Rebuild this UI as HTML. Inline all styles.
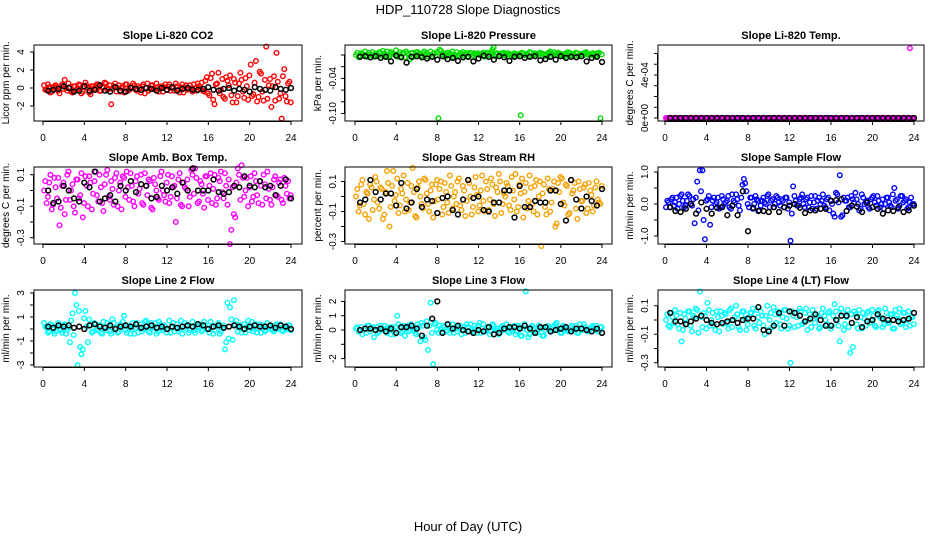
<!DOCTYPE html>
<html><head><meta charset="utf-8"><style>
body{margin:0;background:#fff;}
svg{display:block;font-family:"Liberation Sans",sans-serif;}
</style></head><body>
<svg id="chart" width="936" height="540" viewBox="0 0 936 540">
<rect width="936" height="540" fill="#fff"/>
<text x="468" y="14" text-anchor="middle" font-size="13">HDP_110728  Slope Diagnostics</text>
<text x="468" y="531" text-anchor="middle" font-size="13">Hour of Day (UTC)</text>
</svg>
<script>
const hoursColored=[0.1,0.35,0.6,0.85,1.1,1.35,1.6,1.85,2.1,2.35,2.6,2.85,3.1,3.35,3.6,3.85,4.1,4.35,4.6,4.85,5.1,5.35,5.6,5.85,6.1,6.35,6.6,6.85,7.1,7.35,7.6,7.85,8.1,8.35,8.6,8.85,9.1,9.35,9.6,9.85,10.1,10.35,10.6,10.85,11.1,11.35,11.6,11.85,12.1,12.35,12.6,12.85,13.1,13.35,13.6,13.85,14.1,14.35,14.6,14.85,15.1,15.35,15.6,15.85,16.1,16.35,16.6,16.85,17.1,17.35,17.6,17.85,18.1,18.35,18.6,18.85,19.1,19.35,19.6,19.85,20.1,20.35,20.6,20.85,21.1,21.35,21.6,21.85,22.1,22.35,22.6,22.85,23.1,23.35,23.6,23.85];
const hoursColored2=[0.22,0.47,0.72,0.97,1.22,1.47,1.72,1.97,2.22,2.47,2.72,2.97,3.22,3.47,3.72,3.97,4.22,4.47,4.72,4.97,5.22,5.47,5.72,5.97,6.22,6.47,6.72,6.97,7.22,7.47,7.72,7.97,8.22,8.47,8.72,8.97,9.22,9.47,9.72,9.97,10.22,10.47,10.72,10.97,11.22,11.47,11.72,11.97,12.22,12.47,12.72,12.97,13.22,13.47,13.72,13.97,14.22,14.47,14.72,14.97,15.22,15.47,15.72,15.97,16.22,16.47,16.72,16.97,17.22,17.47,17.72,17.97,18.22,18.47,18.72,18.97,19.22,19.47,19.72,19.97,20.22,20.47,20.72,20.97,21.22,21.47,21.72,21.97,22.22,22.47,22.72,22.97,23.22,23.47,23.72,23.97];
const hoursBlack=[0.5,1,1.5,2,2.5,3,3.5,4,4.5,5,5.5,6,6.5,7,7.5,8,8.5,9,9.5,10,10.5,11,11.5,12,12.5,13,13.5,14,14.5,15,15.5,16,16.5,17,17.5,18,18.5,19,19.5,20,20.5,21,21.5,22,22.5,23,23.5,24];
const xTicks=[0,4,8,12,16,20,24];

const co2Colored=[0.3,-0.2,0.1,-0.4,0.2,0.0,-0.6,0.4,0.9,-0.3,0.1,-0.5,0.2,-0.1,0.3,-0.4,0.6,0.0,-0.7,0.2,-0.2,0.4,-0.3,0.1,0.5,-0.1,-1.8,0.2,-0.4,0.3,0.0,-0.5,0.4,-0.2,0.1,0.3,-0.3,0.0,0.2,-0.6,0.5,-0.1,0.3,-0.2,0.1,0.0,-0.4,0.4,0.2,-0.3,0.0,0.5,-0.2,0.1,-0.5,0.3,0.0,-0.1,0.4,-0.3,0.2,0.6,-0.4,1.2,-0.8,1.6,-1.8,0.5,-0.6,1.0,-1.2,0.8,1.4,-1.6,0.6,-0.9,1.7,-0.4,1.1,-1.3,2.6,-0.7,3.0,-1.0,1.6,-1.4,4.6,0.3,-2.1,1.3,3.9,-1.2,-3.4,2.1,-1.5,0.7];
const co2Colored2=[-0.2,0.4,-0.5,0.1,0.3,-0.3,0.2,-0.1,0.0,0.5,-0.4,0.2,-0.2,0.4,-0.6,0.1,0.3,-0.5,0.2,0.0,0.4,-0.3,0.1,0.6,-0.2,0.3,-0.1,0.5,0.0,-0.4,0.2,0.4,-0.3,0.1,0.5,-0.2,0.2,-0.5,0.4,0.0,-0.3,0.3,-0.1,0.5,-0.4,0.2,0.1,-0.2,0.4,0.0,-0.3,0.2,-0.5,0.4,0.1,-0.2,0.3,-0.4,0.0,0.5,-0.1,-0.3,0.8,-0.6,1.1,-1.3,0.4,1.7,-0.2,-1.0,1.2,0.3,-0.8,1.0,-1.6,0.5,0.9,-1.1,0.2,1.4,-0.9,0.6,-1.5,1.8,-0.4,0.9,-1.2,1.0,0.2,-1.4,0.7,-0.6,1.3,-0.9,0.5,-1.6];
const co2Black=[-0.3,-0.2,-0.1,0.2,0.0,-0.4,-0.3,0.2,-0.3,-0.2,0.3,-0.3,-0.4,0.1,-0.3,-0.4,0.0,-0.1,-0.2,0.0,-0.1,-0.3,0.0,-0.2,0.1,-0.3,-0.1,0.0,-0.2,-0.2,-0.1,0.1,-0.2,-0.3,-0.1,0.0,-0.3,-0.1,-0.2,-0.4,0.1,-0.1,-0.2,-0.3,0.1,-0.1,-0.2,0.0];
const pressColored=[0.0,-0.004,0.003,0.001,-0.002,0.004,0.0,-0.003,0.002,0.005,-0.001,0.003,0.006,-0.002,0.004,0.001,-0.003,0.005,0.002,-0.004,0.003,-0.007,0.004,0.0,0.005,-0.002,0.003,0.001,-0.003,0.006,0.002,-0.001,-0.108,0.007,0.003,-0.002,0.004,0.001,-0.003,0.005,0.0,0.002,-0.001,0.004,0.002,-0.004,0.003,0.001,0.0,0.002,-0.003,0.004,0.001,0.009,-0.002,0.003,0.0,0.002,-0.001,0.003,0.001,-0.002,0.002,0.0,-0.103,0.003,0.001,-0.002,0.004,0.0,0.002,-0.001,0.003,0.001,0.0,0.004,-0.002,0.005,0.002,0.0,0.001,-0.003,0.002,0.004,0.0,-0.001,0.003,0.002,-0.002,0.004,0.001,0.0,0.003,-0.002,0.002,-0.108];
const pressColored2=[0.004,-0.001,0.002,0.006,-0.003,0.001,0.005,0.002,-0.002,0.003,0.007,0.0,-0.004,0.005,0.002,0.008,0.001,-0.002,0.004,0.006,0.0,0.003,-0.003,0.005,0.002,-0.001,0.006,0.004,0.0,-0.002,0.003,0.005,0.009,0.001,-0.003,0.004,0.002,0.006,0.0,-0.001,0.003,0.005,0.001,-0.002,0.004,0.0,0.002,0.003,-0.001,0.004,0.002,0.0,0.005,0.013,0.001,-0.002,0.003,0.004,0.0,0.002,-0.001,0.003,0.001,0.002,0.004,0.0,0.002,0.005,-0.001,0.003,0.001,0.004,0.002,-0.002,0.003,0.006,0.001,0.0,0.004,0.002,-0.001,0.003,0.005,0.0,0.002,0.004,-0.002,0.001,0.003,0.005,0.0,0.002,-0.001,0.003,0.004,0.001];
const pressBlack=[-0.003,-0.002,-0.004,-0.002,-0.005,-0.003,-0.011,-0.001,-0.004,-0.013,-0.003,-0.002,-0.004,-0.006,-0.003,-0.008,-0.002,-0.007,-0.005,-0.010,-0.004,-0.003,-0.011,-0.006,-0.001,-0.003,-0.008,-0.002,-0.004,-0.010,-0.003,-0.002,-0.005,-0.003,-0.002,-0.009,-0.007,-0.003,-0.008,-0.002,-0.005,-0.003,-0.004,-0.002,-0.011,-0.005,-0.003,-0.012];
const tempColored=[0,0,0,0,0,0,0,0,0,0,0,0,0,0,0,0,0,0,0,0,0,0,0,0,0,0,0,0,0,0,0,0,0,0,0,0,0,0,0,0,0,0,0,0,0,0,0,0,0,0,0,0,0,0,0,0,0,0,0,0,0,0,0,0,0,0,0,0,0,0,0,0,0,0,0,0,0,0,0,0,0,0,0,0,0,0,0,0,0,0,0,0,0,0,0.00065,0];
const tempColored2=[0,0,0,0,0,0,0,0,0,0,0,0,0,0,0,0,0,0,0,0,0,0,0,0,0,0,0,0,0,0,0,0,0,0,0,0,0,0,0,0,0,0,0,0,0,0,0,0,0,0,0,0,0,0,0,0,0,0,0,0,0,0,0,0,0,0,0,0,0,0,0,0,0,0,0,0,0,0,0,0,0,0,0,0,0,0,0,0,0,0,0,0,0,0,0,0];
const tempBlack=[0,0,0,0,0,0,0,0,0,0,0,0,0,0,0,0,0,0,0,0,0,0,0,0,0,0,0,0,0,0,0,0,0,0,0,0,0,0,0,0,0,0,0,0,0,0,0,0];
const ambColored=[0.0,-0.08,0.05,-0.12,0.08,-0.05,-0.22,0.03,-0.15,0.1,-0.06,0.04,-0.14,0.07,-0.03,-0.17,0.09,-0.1,0.05,-0.02,0.12,-0.07,0.02,-0.13,0.1,-0.04,0.06,-0.09,0.11,0.0,-0.12,0.08,0.12,-0.06,0.03,-0.1,0.09,0.01,-0.08,0.11,-0.03,0.06,-0.12,0.04,-0.05,0.09,0.0,-0.07,0.1,-0.04,0.02,-0.2,0.07,-0.09,0.05,0.01,-0.1,0.13,-0.02,0.08,-0.07,0.04,-0.11,0.09,0.03,-0.08,0.1,-0.05,0.06,-0.01,0.11,-0.09,-0.34,0.02,-0.17,0.14,-0.06,0.08,0.0,-0.1,0.09,-0.04,0.06,-0.08,0.03,0.1,-0.05,0.01,-0.09,0.07,-0.03,0.05,-0.06,0.08,-0.02,-0.05];
const ambColored2=[0.06,-0.04,0.1,-0.09,0.02,0.08,-0.11,0.05,-0.06,0.12,0.0,-0.1,0.07,-0.05,0.11,-0.08,0.03,0.09,-0.12,0.06,-0.03,0.1,-0.08,0.04,0.13,-0.06,0.01,0.08,-0.1,0.05,0.09,-0.04,0.02,0.11,-0.07,0.06,-0.02,0.1,-0.09,0.03,0.07,-0.11,0.08,0.0,-0.06,0.12,-0.03,0.05,-0.08,0.09,0.03,-0.05,0.11,-0.1,0.02,0.07,-0.04,0.1,0.14,-0.08,0.06,-0.02,0.09,-0.06,0.11,0.01,-0.09,0.08,0.12,-0.05,0.03,0.07,-0.25,-0.15,0.05,0.1,0.16,-0.04,0.08,0.02,-0.07,0.11,-0.03,0.06,-0.09,0.04,0.12,-0.06,0.02,0.09,-0.04,0.07,-0.08,0.03,0.06,-0.03];
const ambBlack=[0.0,-0.08,-0.07,0.03,0.0,-0.05,-0.07,0.05,0.02,0.12,-0.07,-0.05,-0.03,-0.07,0.03,0.0,0.06,-0.01,0.04,0.03,-0.05,-0.04,0.03,0.0,0.02,-0.02,0.05,0.0,0.14,0.0,0.0,0.0,0.07,-0.01,-0.02,-0.01,0.03,0.02,0.09,0.03,0.02,0.06,0.02,0.03,-0.03,0.03,0.07,-0.05];
const rhColored=[0.0,-0.1,0.08,-0.05,0.03,-0.15,0.06,-0.02,0.1,-0.08,0.05,-0.12,0.17,-0.2,0.07,-0.03,0.12,-0.06,0.02,-0.1,0.09,-0.04,0.19,-0.13,0.06,0.0,-0.08,0.11,-0.05,0.04,-0.14,0.08,-0.02,0.1,-0.07,0.03,-0.11,0.07,0.0,-0.05,0.12,-0.09,0.04,-0.03,0.09,-0.12,0.06,0.01,-0.06,0.14,-0.1,0.05,-0.02,0.08,-0.13,0.03,0.1,-0.05,0.0,0.07,-0.09,0.04,0.15,-0.07,0.02,-0.14,0.09,-0.03,0.06,-0.1,0.11,0.0,-0.33,0.08,-0.12,0.05,-0.04,0.1,-0.18,0.03,0.12,-0.06,0.07,-0.11,0.02,0.09,-0.15,0.05,-0.03,0.08,-0.08,0.04,-0.1,0.06,-0.02,-0.05];
const rhColored2=[0.05,-0.06,0.11,-0.12,0.02,0.08,-0.09,0.13,-0.04,0.06,-0.15,0.03,0.09,-0.07,0.17,0.01,-0.11,0.05,0.14,-0.02,-0.09,0.07,0.03,-0.14,0.1,-0.05,0.12,0.02,-0.1,0.08,-0.03,0.11,0.05,-0.12,0.09,-0.04,0.14,-0.08,0.03,0.1,-0.06,0.07,-0.13,0.11,0.0,-0.07,0.13,-0.1,0.04,-0.03,0.1,-0.09,0.12,-0.05,0.06,0.15,-0.11,0.02,0.09,-0.06,0.13,-0.02,-0.1,0.08,0.12,0.03,-0.08,0.14,-0.05,0.07,-0.12,0.1,0.02,-0.07,0.12,-0.1,0.05,-0.2,0.09,0.13,-0.04,0.08,-0.12,0.11,0.04,-0.08,0.1,-0.03,0.06,-0.11,0.09,0.01,-0.06,0.1,-0.04,0.07];
const rhBlack=[-0.04,-0.02,0.11,0.03,-0.02,0.02,0.02,-0.06,0.09,-0.08,-0.04,0.05,-0.07,-0.02,-0.03,-0.11,-0.01,0.0,-0.09,-0.12,-0.02,0.11,-0.01,0.0,-0.09,-0.1,-0.04,-0.04,0.04,0.04,-0.14,0.07,-0.07,-0.07,-0.03,-0.04,-0.04,0.04,0.04,-0.05,-0.16,0.11,-0.02,-0.08,0.0,-0.03,-0.06,0.05];
const flowColored=[-0.1,0.05,0.15,-0.05,0.2,0.0,0.3,-0.1,0.1,0.25,-0.05,-0.6,0.7,1.05,1.05,-1.1,0.15,-0.65,0.1,0.0,0.2,-0.1,0.15,0.05,0.25,-0.15,0.1,0.3,-0.05,0.2,0.78,0.4,-0.1,0.2,0.0,0.15,-0.2,0.1,0.05,0.25,-0.1,0.15,0.0,0.2,-0.05,0.1,0.2,-0.15,-1.15,0.55,0.1,-0.05,0.2,0.0,0.15,-0.1,0.25,0.05,-0.15,0.2,0.1,-0.05,0.15,-0.2,0.0,-0.4,0.3,0.9,-0.35,0.1,0.2,-0.1,0.15,0.35,0.0,-0.15,0.2,0.05,-0.1,0.15,0.25,-0.05,0.1,0.0,-0.15,0.2,0.05,-0.1,0.5,0.15,-0.05,0.25,0.1,-0.15,0.05,0.0];
const flowColored2=[0.1,-0.1,0.2,0.05,-0.15,0.25,0.1,-0.05,0.3,0.0,0.15,0.2,-0.2,0.4,-0.5,0.1,0.25,-0.1,0.2,0.05,-0.15,0.25,0.0,0.1,-0.1,0.3,0.05,0.15,-0.2,0.6,0.65,0.0,0.2,-0.15,0.25,0.1,-0.05,0.2,0.0,0.3,0.1,-0.1,0.25,0.05,0.15,-0.1,0.2,0.05,-0.3,0.25,-0.05,0.15,0.3,-0.1,0.2,0.05,-0.15,0.25,0.1,0.0,0.3,-0.1,0.2,0.1,-0.3,0.35,0.05,-0.4,0.2,0.1,-0.1,0.25,0.05,0.15,-0.2,0.3,0.0,0.1,-0.15,0.2,0.05,0.25,-0.1,0.15,0.0,0.2,-0.05,0.3,0.1,-0.15,0.25,0.05,0.15,-0.1,0.2,0.0];
const flowBlack=[-0.1,-0.22,-0.25,-0.15,0.0,-0.3,0.05,-0.15,-0.3,-0.12,-0.1,-0.35,-0.05,-0.35,0.4,-0.85,-0.12,-0.22,-0.22,-0.25,-0.1,-0.25,-0.1,-0.05,0.0,-0.12,-0.28,-0.2,-0.2,-0.15,-0.15,0.1,0.12,0.15,-0.22,-0.05,-0.08,-0.25,0.05,-0.1,-0.15,-0.3,-0.2,-0.22,-0.1,-0.25,-0.2,-0.05];
const line2Colored=[0.5,0.1,-0.2,0.3,-0.4,0.2,0.0,-0.3,0.4,-0.1,-1.1,1.3,3.0,-3.0,-1.5,-1.7,1.5,-1.1,0.3,-0.2,0.4,0.0,-0.3,0.6,-0.1,0.2,-0.4,0.5,0.1,-0.2,0.3,1.1,-0.3,0.2,0.0,-0.4,0.5,0.1,-0.2,0.6,0.3,-0.3,0.1,0.5,-0.2,0.4,-0.1,0.2,0.0,-0.3,0.5,0.1,-0.2,0.7,0.0,0.3,-0.3,0.2,-0.1,0.4,0.1,-0.2,0.6,0.0,-0.3,0.2,-0.1,0.3,-0.4,0.1,-1.7,2.2,1.8,-0.9,0.4,-0.2,0.3,0.0,-0.3,0.7,0.1,-0.2,0.4,0.0,-0.3,0.3,-0.1,0.2,0.0,-0.2,0.4,0.1,-0.1,0.2,0.0,0.3];
const line2Colored2=[0.2,-0.3,0.4,0.0,-0.2,0.5,-0.1,0.3,-0.4,0.1,0.7,-0.5,2.0,1.5,-2.1,0.9,0.2,0.8,-0.3,0.5,-0.1,0.3,-0.4,0.2,0.5,-0.2,0.8,0.0,-0.3,0.4,0.6,-0.1,0.3,-0.4,0.5,0.1,-0.3,0.4,0.0,0.7,-0.2,0.5,0.2,-0.4,0.6,0.0,0.3,-0.3,0.7,0.1,-0.2,0.4,0.0,-0.4,0.5,0.2,-0.1,0.6,-0.3,0.2,0.4,-0.1,0.3,0.0,0.6,-0.4,0.2,0.5,-0.2,0.3,-1.1,-0.8,0.8,2.4,0.7,0.1,-0.3,0.4,0.2,-0.1,0.6,0.0,-0.3,0.4,0.1,-0.2,0.5,0.2,-0.1,0.3,0.0,0.4,-0.2,0.1,0.3,-0.1];
const line2Black=[0.2,0.1,0.3,0.2,0.3,0.1,0.2,0.0,0.3,0.4,0.2,0.1,0.3,0.0,0.2,0.3,0.2,0.4,0.1,0.2,0.3,0.1,0.2,0.0,0.2,0.1,0.2,0.3,0.2,0.4,0.3,0.0,0.2,0.3,0.1,0.2,0.3,0.2,0.0,0.2,0.3,0.2,0.2,0.3,0.1,0.3,0.2,0.0];
const line3Colored=[0.1,-0.1,0.2,0.0,-0.2,0.3,0.1,-0.5,0.2,-0.1,0.0,0.3,-0.2,0.1,0.2,-0.3,1.0,0.2,-0.1,-0.4,0.3,0.0,0.2,-0.2,0.4,-0.8,0.3,-0.7,-1.4,1.9,-2.4,0.5,-0.2,0.1,0.3,-0.1,0.4,0.0,-0.2,0.3,0.1,-0.3,0.2,0.4,-0.1,0.0,0.3,-0.2,0.5,0.1,-0.1,0.2,-0.3,0.4,0.0,0.1,-0.2,0.3,0.1,-0.1,0.2,0.0,-0.3,0.3,-0.4,0.1,2.7,-0.5,0.2,0.0,-0.2,0.3,0.1,-0.4,0.2,0.0,-0.1,0.3,0.5,0.1,-0.2,0.2,0.0,-0.1,0.3,0.1,-0.2,0.4,0.0,0.2,-0.1,0.1,0.3,0.0,-0.1,0.2];
const line3Colored2=[0.2,0.0,-0.3,0.1,0.3,-0.1,0.2,0.0,-0.2,0.3,0.1,-0.1,0.2,-0.3,0.0,0.2,0.4,-0.2,0.3,0.1,-0.1,0.4,0.0,-0.3,0.2,0.5,-0.5,0.6,0.3,-0.2,0.4,0.0,0.3,-0.1,0.2,0.0,-0.2,0.4,0.1,-0.1,0.3,0.0,-0.2,0.2,0.4,-0.1,0.1,0.3,-0.2,0.4,0.0,0.2,-0.1,0.3,0.1,-0.3,0.2,0.0,0.4,-0.2,0.1,0.3,-0.1,0.2,-0.4,0.4,0.0,-0.3,0.3,0.1,-0.2,0.2,-0.4,0.0,0.3,-0.1,0.2,0.4,0.0,-0.2,0.3,0.1,-0.1,0.2,0.0,0.3,-0.2,0.1,0.4,0.0,-0.1,0.2,0.1,0.3,-0.1,0.2];
const line3Black=[0.0,0.1,0.1,0.0,0.1,-0.1,0.1,-0.2,0.2,0.2,0.3,0.1,-0.4,0.3,0.8,2.0,-0.2,0.4,0.1,0.3,0.0,-0.1,-0.2,0.0,-0.1,0.2,-0.3,-0.2,0.1,0.2,0.2,0.1,0.3,0.1,-0.2,0.2,0.2,-0.1,0.0,0.1,0.2,-0.1,0.1,0.1,0.0,-0.1,0.1,-0.2];
const line4Colored=[0.0,-0.04,0.05,-0.02,0.03,-0.06,-0.15,0.04,-0.03,0.06,-0.08,0.02,0.07,0.2,-0.05,0.03,0.12,-0.04,0.05,-0.07,0.02,0.06,-0.03,0.04,-0.06,0.08,0.0,0.1,-0.05,0.03,0.06,-0.07,0.02,0.05,-0.04,0.07,-0.02,0.03,-0.1,0.1,0.0,-0.05,0.04,0.06,-0.03,0.02,0.07,-0.06,-0.3,0.03,0.05,-0.04,0.06,-0.02,0.08,0.0,-0.05,0.04,0.02,-0.06,0.05,0.03,-0.03,0.06,-0.04,0.11,0.0,-0.15,0.05,-0.03,0.07,-0.23,-0.19,0.04,-0.06,0.02,0.05,-0.04,0.06,0.0,0.03,-0.05,0.07,0.01,-0.03,0.05,-0.02,0.04,-0.06,0.03,0.08,-0.02,0.05,0.0,-0.04,0.02];
const line4Colored2=[0.04,-0.05,0.02,0.07,-0.03,0.05,-0.07,0.01,0.06,-0.04,0.03,0.08,-0.09,0.02,0.05,-0.06,0.07,0.0,-0.04,0.06,-0.08,0.03,0.05,-0.02,0.07,-0.05,0.02,0.04,-0.07,0.06,0.01,-0.03,0.05,0.08,-0.06,0.02,0.06,-0.04,0.03,-0.07,0.05,0.09,-0.02,0.04,-0.06,0.07,0.01,-0.04,0.06,-0.05,0.02,0.08,-0.03,0.05,-0.07,0.04,0.07,-0.02,0.03,-0.05,0.08,0.0,0.05,-0.06,0.03,0.06,-0.04,0.08,-0.07,0.02,-0.05,0.04,0.06,-0.03,0.07,-0.06,0.01,0.05,-0.02,0.07,-0.04,0.06,0.02,-0.05,0.08,-0.02,0.04,-0.06,0.07,0.01,-0.03,0.05,-0.05,0.06,0.02,-0.03];
const line4Black=[0.05,-0.01,-0.01,-0.03,-0.01,0.01,0.03,0.0,-0.02,-0.03,-0.02,-0.01,0.0,-0.02,0.0,0.01,0.01,0.09,-0.07,-0.08,-0.04,0.05,-0.04,0.06,0.05,0.03,-0.01,0.01,0.04,0.0,-0.04,-0.04,0.0,0.03,0.03,-0.02,0.02,-0.05,-0.01,0.0,0.04,0.01,0.0,0.0,-0.01,0.0,0.01,0.05];

const NS='http://www.w3.org/2000/svg';
const svg=document.getElementById('chart');
function mk(tag,attrs,parent){const e=document.createElementNS(NS,tag);for(const k in attrs)e.setAttribute(k,attrs[k]);(parent||svg).appendChild(e);return e;}

const cols=[{bx0:34,bx1:302,x0:43,x24:291,tl:24,at:9},{bx0:345,bx1:612,x0:355,x24:602,tl:336,at:321},{bx0:658,bx1:924,x0:665,x24:914,tl:648,at:633}];
const rows=[{by0:45,by1:121,tt:39},{by0:167,by1:244,tt:161},{by0:290,by1:367,tt:284}];
const panels=[
 {id:'co2',title:'Slope Li-820 CO2',yl:'Licor ppm per min.',c:0,r:0,col:'#ff0000',v0:88,ppu:9,ticks:[-2,0,2,4],labels:['-2','0','2','4'],d:co2Colored,d2:co2Colored2,b:co2Black},
 {id:'pressure',title:'Slope Li-820 Pressure',yl:'kPa per min.',c:1,r:0,col:'#00dd00',v0:55,ppu:585,ticks:[0,-0.02,-0.04,-0.06,-0.08,-0.10],labels:['','','-0.04','','','-0.10'],d:pressColored,d2:pressColored2,b:pressBlack},
 {id:'temp',title:'Slope Li-820 Temp.',yl:'degrees C per min.',c:2,r:0,col:'#ff00ff',v0:118,ppu:107500,ticks:[0,0.0001,0.0002,0.0003,0.0004,0.0005,0.0006],labels:['0e+00','','','','4e-04','',''],d:tempColored,d2:tempColored2,b:tempBlack},
 {id:'amb-box-temp',title:'Slope Amb. Box Temp.',yl:'degrees C per min.',c:0,r:1,col:'#ff00ff',v0:190.5,ppu:157.5,ticks:[0.1,0,-0.1,-0.2,-0.3],labels:['0.1','','-0.1','','-0.3'],d:ambColored,d2:ambColored2,b:ambBlack},
 {id:'gas-rh',title:'Slope Gas Stream RH',yl:'percent per min.',c:1,r:1,col:'#f5a000',v0:196.5,ppu:150,ticks:[0.1,0,-0.1,-0.2,-0.3],labels:['0.1','','-0.1','','-0.3'],d:rhColored,d2:rhColored2,b:rhBlack},
 {id:'sample-flow',title:'Slope Sample Flow',yl:'ml/min per min.',c:2,r:1,col:'#0000ff',v0:204,ppu:32,ticks:[1,0.5,0,-0.5,-1],labels:['1.0','','0.0','','-1.0'],d:flowColored,d2:flowColored2,b:flowBlack},
 {id:'line2-flow',title:'Slope Line 2 Flow',yl:'ml/min per min.',c:0,r:2,col:'#00ffff',v0:329,ppu:12,ticks:[3,2,1,0,-1,-2,-3],labels:['3','','1','','-1','','-3'],d:line2Colored,d2:line2Colored2,b:line2Black},
 {id:'line3-flow',title:'Slope Line 3 Flow',yl:'ml/min per min.',c:1,r:2,col:'#00ffff',v0:330,ppu:14.3,ticks:[2,1,0,-1,-2],labels:['2','1','0','','-2'],d:line3Colored,d2:line3Colored2,b:line3Black},
 {id:'line4-flow',title:'Slope Line 4 (LT) Flow',yl:'ml/min per min.',c:2,r:2,col:'#00ffff',v0:320,ppu:142.5,ticks:[0.1,0,-0.1,-0.2,-0.3],labels:['0.1','','-0.1','','-0.3'],d:line4Colored,d2:line4Colored2,b:line4Black}
];

panels.forEach(p=>{
 const C=cols[p.c],R=rows[p.r];
 const xs=h=>C.x0+(C.x24-C.x0)*h/24;
 const ys=v=>p.v0-v*p.ppu;
 const g=mk('g',{});
 
 
 const t=mk('text',{x:(C.bx0+C.bx1)/2,y:R.tt,'text-anchor':'middle','font-size':'11','font-weight':'bold'},g);
 t.textContent=p.title;
 
 
 const cg=mk('g',{fill:'none',stroke:p.col,'stroke-width':'1.4'},g);
 
 
 p.d.forEach((v,i)=>{const c=mk('circle',{cx:xs(hoursColored[i]).toFixed(1),cy:ys(v).toFixed(1),r:2.3},cg);
  
  });
 p.d2.forEach((v,i)=>{const c=mk('circle',{cx:xs(hoursColored2[i]).toFixed(1),cy:ys(v).toFixed(1),r:2.3},cg);
  
  });
 const bg=mk('g',{fill:'none',stroke:'#000','stroke-width':'1.5'},g);
 
 
 p.b.forEach((v,i)=>{const c=mk('circle',{cx:xs(hoursBlack[i]).toFixed(1),cy:ys(v).toFixed(1),r:2.4},bg);
  
  });
 const box=mk('rect',{x:C.bx0,y:R.by0,width:C.bx1-C.bx0,height:R.by1-R.by0,fill:'none',stroke:'#000','stroke-width':'1'},g);
 
 
 const xa=mk('g',{stroke:'#000','stroke-width':'1'},g);
 
 
 mk('line',{x1:xs(0),x2:xs(24),y1:R.by1+0.5,y2:R.by1+0.5},xa);
 xTicks.forEach(h=>{mk('line',{x1:xs(h),x2:xs(h),y1:R.by1,y2:R.by1+4},xa);
  const l=mk('text',{x:xs(h),y:R.by1+20,'text-anchor':'middle','font-size':'10',stroke:'none',fill:'#000'},xa);
  l.textContent=h;
  
  });
 const ya=mk('g',{stroke:'#000','stroke-width':'1'},g);
 
 
 const tys=p.ticks.map(ys);
 mk('line',{x1:C.bx0-0.5,x2:C.bx0-0.5,y1:Math.min(...tys),y2:Math.max(...tys)},ya);
 p.ticks.forEach((v,i)=>{const y=ys(v);mk('line',{x1:C.bx0-4,x2:C.bx0,y1:y,y2:y},ya);
  if(p.labels[i]){const l=mk('text',{x:C.tl,y:y,'text-anchor':'middle','font-size':'10',stroke:'none',fill:'#000',transform:'rotate(-90 '+C.tl+' '+y+')'},ya);
   l.textContent=p.labels[i];
   
   }});
 const cy=(R.by0+R.by1)/2;
 const yt=mk('text',{x:C.at,y:cy,'text-anchor':'middle','font-size':'10',transform:'rotate(-90 '+C.at+' '+cy+')'},g);
 yt.textContent=p.yl;
 
 
});
</script>
</body></html>
